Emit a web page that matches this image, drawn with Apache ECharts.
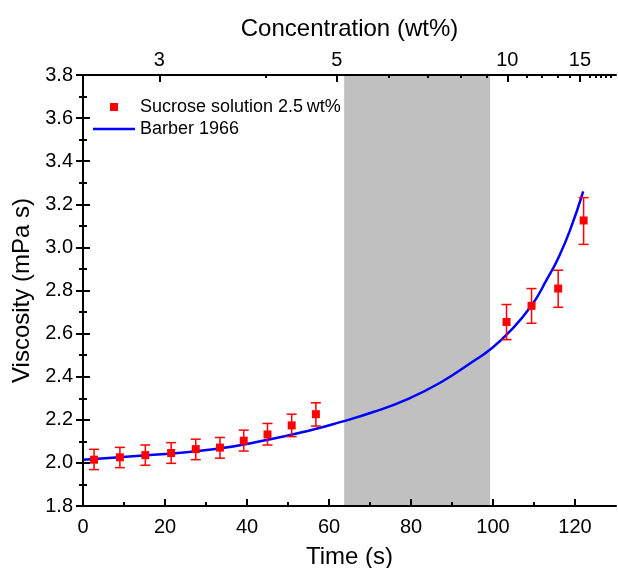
<!DOCTYPE html>
<html>
<head>
<meta charset="utf-8">
<title>Viscosity vs time</title>
<script src="https://cdn.jsdelivr.net/npm/echarts@6/dist/echarts.min.js"></script>
<style>
  html, body { margin: 0; padding: 0; background: #fff; }
  #chart { width: 618px; height: 568px; }
</style>
</head>
<body>
<div id="chart"></div>
<script>
// measured points (sucrose 2.5 wt%)
const sucroseTime = [2.7, 9.0, 15.2, 21.5, 27.5, 33.4, 39.2, 45.0, 50.9, 56.8, 103.3, 109.4, 115.9, 122.1];
const sucroseVisc = [2.015, 2.026, 2.036, 2.046, 2.064, 2.071, 2.103, 2.132, 2.174, 2.226, 2.654, 2.729, 2.809, 3.125];
const errLow = [1.969, 1.978, 1.989, 1.998, 2.015, 2.022, 2.055, 2.083, 2.122, 2.171, 2.572, 2.648, 2.722, 3.014];
const errHigh = [2.063, 2.072, 2.083, 2.094, 2.110, 2.118, 2.152, 2.183, 2.226, 2.279, 2.735, 2.809, 2.894, 3.231];

// Barber 1966 curve
const barberTime = [0, 15.5, 31.8, 44.8, 56.2, 62.7, 70.8, 78.9, 87.1, 95.2, 99.3, 104.1, 109.4, 113.1, 115.9, 118.8, 122.0];
const barberVisc = [2.015, 2.035, 2.063, 2.106, 2.155, 2.189, 2.236, 2.294, 2.372, 2.472, 2.526, 2.61, 2.73, 2.85, 2.95, 3.08, 3.26];

// grey region (s)
const shadedRange = [63.7, 99.3];

// bottom axis minor ticks
const timeMinorTicks = [10, 30, 50, 70, 90, 110];

// top axis: concentration labels and where they sit on the time axis
const concMajor = ['3', '5', '10', '15'];
const concMajorTime = [18.6, 61.9, 103.5, 121.2];
const concMinorTime = [44.6, 74.5, 84.1, 92.2, 98.5, 108.2, 111.9, 115.8, 118.7, 123.7, 125.0, 126.3, 127.5, 128.8];

const FONT = 'Liberation Sans, Arial, sans-serif';
const axisLineStyle = { color: '#000', width: 2 };
const tickStyle = { width: 2, color: '#000' };

const chart = echarts.init(document.getElementById('chart'));

const option = {
  animation: false,
  textStyle: { fontFamily: FONT, color: '#000' },
  grid: { left: 83, right: 2, top: 75, bottom: 62, containLabel: false, outerBoundsMode: 'none' },
  legend: {
    left: 93,
    top: 98,
    orient: 'vertical',
    padding: 0,
    itemWidth: 42,
    itemHeight: 8,
    itemGap: 4,
    textStyle: { fontSize: 18, fontFamily: FONT, color: '#000' },
    data: [
      { name: 'Sucrose solution 2.5\u2009wt%', icon: 'path://M0,0h10v10h-10z' },
      { name: 'Barber 1966', icon: 'path://M0,0h42v2.5h-42z' }
    ]
  },
  xAxis: [
    {
      type: 'value', position: 'bottom', min: 0, max: 130, interval: 20, z: 10,
      name: 'Time (s)', nameLocation: 'middle', nameGap: 39,
      nameTextStyle: { fontSize: 24, fontFamily: FONT, color: '#000' },
      axisLine: { lineStyle: axisLineStyle },
      axisTick: { inside: true, length: 7, lineStyle: tickStyle },
      axisLabel: { showMaxLabel: false, fontSize: 20, margin: 11, color: '#000', fontFamily: FONT },
      splitLine: { show: false }
    },
    {
      type: 'value', position: 'bottom', min: 0, max: 130, z: 10,
      axisLine: { show: false },
      axisTick: { inside: true, length: 4, customValues: timeMinorTicks, lineStyle: tickStyle },
      axisLabel: { show: false },
      splitLine: { show: false }
    },
    {
      type: 'value', position: 'top', min: 0, max: 130, z: 10,
      name: 'Concentration (wt%)', nameLocation: 'middle', nameGap: 34,
      nameTextStyle: { fontSize: 24, fontFamily: FONT, color: '#000' },
      axisLine: { lineStyle: axisLineStyle },
      axisTick: { inside: true, length: 7, customValues: concMajorTime, lineStyle: tickStyle },
      axisLabel: {
        customValues: concMajorTime, fontSize: 20, margin: 5, color: '#000', fontFamily: FONT,
        formatter: (v) => concMajor[concMajorTime.indexOf(v)]
      },
      splitLine: { show: false }
    },
    {
      type: 'value', position: 'top', min: 0, max: 130, z: 10,
      axisLine: { show: false },
      axisTick: { inside: true, length: 3, customValues: concMinorTime, lineStyle: tickStyle },
      axisLabel: { show: false },
      splitLine: { show: false }
    }
  ],
  yAxis: [
    {
      type: 'value', position: 'left', min: 1.8, max: 3.8, interval: 0.2, z: 10,
      name: 'Viscosity (mPa s)', nameLocation: 'middle', nameGap: 46,
      nameTextStyle: { fontSize: 24, fontFamily: FONT, color: '#000' },
      axisLine: { lineStyle: axisLineStyle },
      axisTick: { inside: true, length: 7, lineStyle: tickStyle },
      minorTick: { show: true, splitNumber: 2, length: 4, lineStyle: tickStyle },
      axisLabel: { fontSize: 20, margin: 10, color: '#000', fontFamily: FONT, formatter: (v) => v.toFixed(1) },
      splitLine: { show: false },
      minorSplitLine: { show: false }
    },
    {
      type: 'value', position: 'right', min: 1.8, max: 3.8, interval: 0.2, z: 10,
      axisLine: { lineStyle: axisLineStyle },
      axisTick: { inside: true, length: 7, lineStyle: tickStyle },
      minorTick: { show: true, splitNumber: 2, length: 4, lineStyle: tickStyle },
      axisLabel: { show: false },
      splitLine: { show: false },
      minorSplitLine: { show: false }
    }
  ],
  series: [
    {
      name: 'Barber 1966',
      type: 'line',
      xAxisIndex: 0,
      yAxisIndex: 0,
      data: barberTime.map((t, i) => [t, barberVisc[i]]),
      symbol: 'none',
      smooth: 0.5,
      z: 3,
      lineStyle: { color: '#0000ff', width: 2.5 },
      itemStyle: { color: '#0000ff' },
      markArea: {
        silent: true,
        itemStyle: { color: '#c0c0c0' },
        data: [[{ xAxis: shadedRange[0] }, { xAxis: shadedRange[1] }]]
      }
    },
    {
      name: 'errors',
      type: 'custom',
      xAxisIndex: 0,
      yAxisIndex: 0,
      z: 4,
      data: sucroseTime.map((t, i) => [t, errLow[i], errHigh[i]]),
      encode: { x: 0, y: [1, 2] },
      renderItem(params, api) {
        const lo = api.coord([api.value(0), api.value(1)]);
        const hi = api.coord([api.value(0), api.value(2)]);
        const half = 5;
        const style = { stroke: '#ff0000', lineWidth: 1.5 };
        return {
          type: 'group',
          children: [
            { type: 'line', shape: { x1: lo[0], y1: lo[1], x2: hi[0], y2: hi[1] }, style },
            { type: 'line', shape: { x1: lo[0] - half, y1: lo[1], x2: lo[0] + half, y2: lo[1] }, style },
            { type: 'line', shape: { x1: hi[0] - half, y1: hi[1], x2: hi[0] + half, y2: hi[1] }, style }
          ]
        };
      }
    },
    {
      name: 'Sucrose solution 2.5\u2009wt%',
      type: 'scatter',
      xAxisIndex: 0,
      yAxisIndex: 0,
      z: 5,
      symbol: 'rect',
      symbolSize: 8,
      itemStyle: { color: '#ff0000', opacity: 1 },
      data: sucroseTime.map((t, i) => [t, sucroseVisc[i]])
    }
  ]
};

chart.setOption(option);
</script>
</body>
</html>
